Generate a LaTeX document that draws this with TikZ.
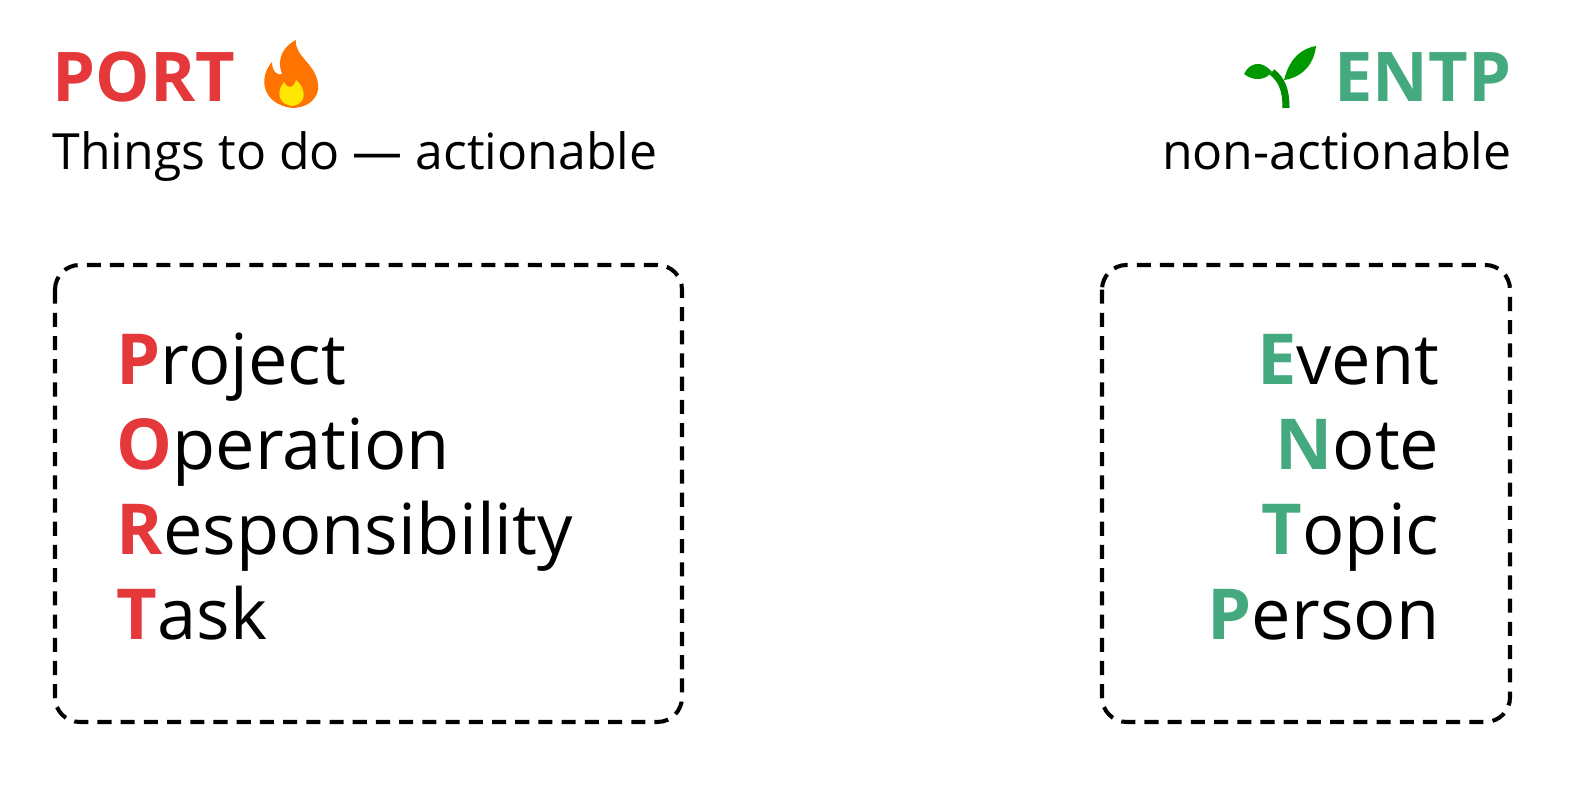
\documentclass[tikz,border=0pt]{standalone}
\usepackage{fontspec}
\setmainfont{Open Sans}
\definecolor{pred}{HTML}{E5383B}
\definecolor{egreen}{HTML}{45A97F}
\begin{document}
\begin{tikzpicture}[x=0.01cm,y=-0.01cm,
  box/.style={draw=black,line width=1.15pt,dash pattern=on 4pt off 2.6pt,rounded corners=7pt},
  title/.style={inner sep=0,font=\fontsize{19.5}{24}\selectfont\bfseries},
  sub/.style={inner sep=0,font=\fontsize{14.2}{18}\selectfont},
  item/.style={inner sep=0,font=\fontsize{20}{24}\selectfont}]
\useasboundingbox (0,0) rectangle (1590,798);
\node[title,text=pred,anchor=base west] (port) at (52,102) {PORT};
\node[title,text=egreen,anchor=base east] (entp) at (1512,102) {ENTP};
\node[sub,anchor=base west] (sl) at (52,170) {Things to do — actionable};
\node[sub,anchor=base east] (sr) at (1512,170) {non-actionable};
% fire
\fill[orange!90!red] (292,108) .. controls (262,104) and (258,78) .. (272,62) .. controls (272,72) and (278,76) .. (282,74) .. controls (276,58) and (284,46) .. (296,40) .. controls (294,56) and (316,64) .. (318,84) .. controls (320,98) and (308,108) .. (292,108) -- cycle;
\fill[yellow!90!orange] (292,106) .. controls (278,104) and (276,92) .. (284,82) .. controls (288,90) and (294,88) .. (296,80) .. controls (306,88) and (308,104) .. (292,106) -- cycle;
% seedling
\draw[green!55!black,line width=2pt] (1286,108) .. controls (1286,90) and (1282,80) .. (1272,72);
\fill[green!60!black] (1272,72) .. controls (1262,60) and (1250,62) .. (1244,74) .. controls (1254,82) and (1266,80) .. (1272,72) -- cycle;
\fill[green!60!black] (1284,80) .. controls (1290,56) and (1304,48) .. (1316,46) .. controls (1314,66) and (1300,78) .. (1284,80) -- cycle;
\draw[box] (55,265) rectangle (682,722);
\draw[box] (1102,265) rectangle (1510,722);
\node[item,anchor=base west] (p) at (116,385) {\textcolor{pred}{\bfseries P}roject};
\node[item,anchor=base west] (o) at (116,470) {\textcolor{pred}{\bfseries O}peration};
\node[item,anchor=base west] (r) at (116,555) {\textcolor{pred}{\bfseries R}esponsibility};
\node[item,anchor=base west] (t) at (116,640) {\textcolor{pred}{\bfseries T}ask};
\node[item,anchor=base east] (e) at (1440,385) {\textcolor{egreen}{\bfseries E}vent};
\node[item,anchor=base east] (n) at (1440,470) {\textcolor{egreen}{\bfseries N}ote};
\node[item,anchor=base east] (tp) at (1440,555) {\textcolor{egreen}{\bfseries T}opic};
\node[item,anchor=base east] (pe) at (1440,640) {\textcolor{egreen}{\bfseries P}erson};
\end{tikzpicture}
\end{document}
